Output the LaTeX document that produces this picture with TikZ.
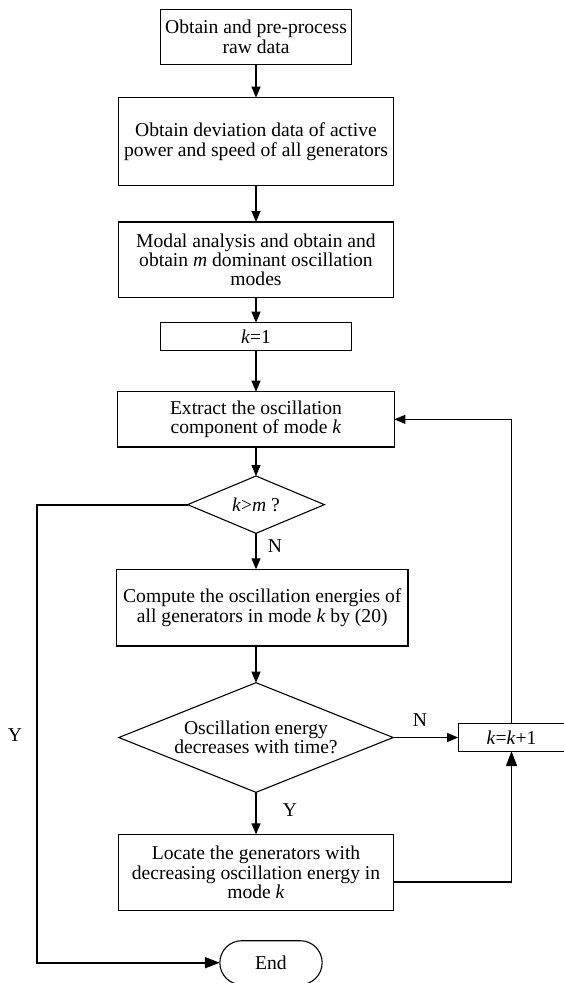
\documentclass[tikz,border=0pt]{standalone}
\usepackage{fontspec}
\setmainfont{Liberation Serif}
\usetikzlibrary{arrows.meta,positioning,shapes.geometric,shapes.misc}

\begin{document}
\begin{tikzpicture}[x=1pt, y=-1pt,
        font=\fontsize{19.6}{19.3}\selectfont,
        line width=1.1pt, outer sep=0pt,
        node distance=33pt,
        box/.style={draw, align=center, inner sep=2pt, minimum width=275pt},
        decision/.style={draw, diamond, align=center, inner sep=0pt, aspect=2.4},
        term/.style={draw, rounded rectangle, minimum width=109pt, minimum height=44pt},
        arr/.style={-{Triangle[length=11pt, width=9pt]}},
        bigarr/.style={-{Triangle[length=15pt, width=11pt]}, line width=1.7pt}
    ]
    \useasboundingbox (0,0) rectangle (563,983);
    \node[box, minimum width=191.6pt, minimum height=55pt] (raw) at (256,36.8) {Obtain and pre-process\\raw data};
    \node[box, minimum height=88pt, below=33.4pt of raw] (dev) {Obtain deviation data of active\\power and speed of all generators};
    \node[box, minimum height=75.7pt, below=36.3pt of dev] (modal) {Modal analysis and obtain and\\obtain \textit{m} dominant oscillation\\modes};
    \node[box, minimum width=191.4pt, minimum height=27.6pt, below=25pt of modal] (init) {\textit{k}=1};
    \node[box, minimum width=276.7pt, minimum height=55.3pt, below=41.4pt of init] (ext) {Extract the oscillation\\component of mode \textit{k}};
    \node[decision, minimum width=136.7pt, minimum height=57.3pt, below=29pt of ext] (chk) {\textit{k}>\textit{m} ?};
    \node[box, minimum width=291.3pt, minimum height=76.7pt, below=36pt of chk, xshift=6.3pt] (cmp) {Compute the oscillation energies of\\all generators in mode \textit{k} by (20)};
    \node[decision, minimum width=274.3pt, minimum height=109.6pt, below=36.7pt of cmp, xshift=-6.3pt] (dec) {Oscillation energy\\decreases with time?};
    \node[box, minimum height=76pt, below=42pt of dec] (loc) {Locate the generators with\\decreasing oscillation energy in\\mode \textit{k}};
    \node[term, below=30.4pt of loc, xshift=15pt] (stop) {End};
    \node[box, minimum width=106.7pt, minimum height=27.3pt, right=65pt of dec] (inc) {\textit{k}=\textit{k}+1};

    % branch labels
    \node (n1) at (275,545.7) {N};
    \node (y1) at (15,735) {Y};
    \node (n2) at (420,720) {N};
    \node (y2) at (290,810) {Y};
    \coordinate (yleft) at (37.3,505);

    \draw[arr] (raw) -- (dev);
    \draw[arr] (dev) -- (modal);
    \draw[arr] (modal) -- (init);
    \draw[arr] (init) -- (ext);
    \draw[arr] (ext) -- (chk);
    \draw[arr] (chk.south) -- (chk.south |- cmp.north);
    \draw[arr] (cmp.south -| dec.north) -- (dec.north);
    \draw[arr] (dec) -- (loc);
    \draw[arr] (dec) -- (inc);
    \draw[arr, line width=0.9pt] (inc.north) |- (ext.east);
    \draw[bigarr] ([yshift=-10pt]loc.east) -| (inc.south);
    \draw[bigarr] (chk.west) -- (chk.west -| yleft) |- (stop.west);
\end{tikzpicture}
\end{document}
